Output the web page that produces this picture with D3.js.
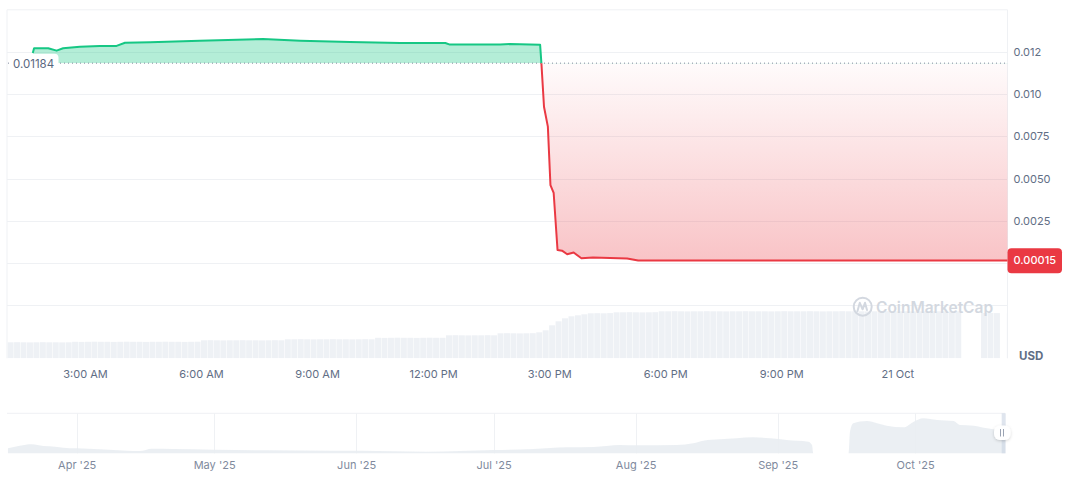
<!DOCTYPE html>
<html><head><meta charset="utf-8">
<script src="https://cdn.jsdelivr.net/npm/d3@7"></script>
<style>
html,body{margin:0;padding:0;background:#fff;}
svg{display:block;font-family:Inter,"Noto Sans",sans-serif;}
</style></head><body>
<svg id="c" width="1072" height="477"></svg>
<script>
// ---------------- DATA ----------------
const priceTimes = ["2025-10-20T01:39Z","2025-10-20T01:41Z","2025-10-20T02:03Z","2025-10-20T02:16Z","2025-10-20T02:26Z","2025-10-20T02:52Z","2025-10-20T03:23Z","2025-10-20T03:49Z","2025-10-20T04:02Z","2025-10-20T04:41Z","2025-10-20T05:58Z","2025-10-20T07:36Z","2025-10-20T08:34Z","2025-10-20T09:51Z","2025-10-20T11:09Z","2025-10-20T12:19Z","2025-10-20T12:26Z","2025-10-20T13:44Z","2025-10-20T13:59Z","2025-10-20T14:46Z","2025-10-20T14:48Z","2025-10-20T14:52Z","2025-10-20T14:58Z","2025-10-20T15:02Z","2025-10-20T15:07Z","2025-10-20T15:13Z","2025-10-20T15:20Z","2025-10-20T15:28Z","2025-10-20T15:38Z","2025-10-20T15:50Z","2025-10-20T16:08Z","2025-10-20T17:01Z","2025-10-20T17:18Z","2025-10-20T19:56Z","2025-10-20T22:48Z","2025-10-21T02:51Z"];
const priceValues = [0.01244,0.01272,0.01272,0.01258,0.01272,0.01281,0.01286,0.01286,0.01305,0.01308,0.01317,0.01327,0.01317,0.01309,0.01303,0.01303,0.01294,0.01294,0.01297,0.01293,0.01183,0.00926,0.00808,0.00462,0.00415,0.00077,0.00073,0.00052,0.00062,0.00028,0.00033,0.00027,0.00015,0.00015,0.00015,0.00015];
const openPrice = 0.01184;
const lastPriceLabel = "0.00015";
const openPriceLabel = "0.01184";

// volume: 10-minute bars starting 2025-10-20 01:00 UTC (relative units)
const volumeStart = "2025-10-20T01:00Z";
const volumeValues = [
16,16.1,16,15.9,16,16.1,16,16,15.9,16,
16.5,16.4,16.5,16.6,16.5,16.5,16.4,16.5,16.6,16.5,16.5,16.4,16.5,16.5,16.6,16.5,16.5,16.4,16.5,16.6,
18,18.1,18,17.9,18,18,18.1,18,18,17.9,18,18.1,18,
19,19,19.1,19,18.9,19,19,19.1,19,19,18.9,19,19.1,19,
20.5,20.4,20.5,20.6,20.5,20.5,20.4,20.5,20.6,20.5,20.5,
23,23.1,23,22.9,23,23,23.1,23,
25,25.1,25,24.9,25,25.1,
26,28,33,37,40,42,43,44,
45,45.1,45,45.2,
46,46,46.1,46,45.9,46,46.1,
47,47,47.1,47,46.9,47,47,47.1,47,47,46.9,47,47,47.1,47,47,47,46.9,47,47.1,47,47,47,47.1,47,46.9,47,47,47.1,47,47,47,46.9,47,47,47.1,47,47,47,46.9,47,47,47.1,47,47,47,47,
0,0,0,
45.3,45.3,45.2,
0,
45];
const volumeStepMin = 10;

const priceTicks = [0.0125,0.01,0.0075,0.005,0.0025];
const priceTickLabels = ["0.012","0.010","0.0075","0.0050","0.0025"];
const extraGrid = [0,-0.0025];

const timeTicks = ["2025-10-20T03:00Z","2025-10-20T06:00Z","2025-10-20T09:00Z","2025-10-20T12:00Z","2025-10-20T15:00Z","2025-10-20T18:00Z","2025-10-20T21:00Z","2025-10-21T00:00Z"];
const timeTickLabels = ["3:00 AM","6:00 AM","9:00 AM","12:00 PM","3:00 PM","6:00 PM","9:00 PM","21 Oct"];

// navigator (overview) history, relative units
const navDates = ["2025-03-17","2025-03-19T14:00","2025-03-22T05:00","2025-03-24T17:00","2025-03-27T07:00","2025-03-29T02:00","2025-04-01","2025-04-06","2025-04-12","2025-04-14T19:00","2025-04-17T10:00","2025-04-22","2025-05-01","2025-05-12T12:00","2025-05-27","2025-06-02","2025-06-16T10:00","2025-06-23T17:00","2025-07-01","2025-07-09T17:00","2025-07-17","2025-07-22T19:00","2025-07-28T14:00","2025-08-01","2025-08-10","2025-08-13T14:00","2025-08-15T19:00","2025-08-19T10:00","2025-08-23","2025-08-26T17:00","2025-08-30T10:00","2025-09-03","2025-09-07T17:00","2025-09-08T12:00","2025-09-08T19:00","2025-09-16T12:00","2025-09-16T19:00","2025-09-17T12:00","2025-09-20T12:00","2025-09-22T17:00","2025-09-24T19:00","2025-09-28T12:00","2025-09-30T17:00","2025-10-02T19:00","2025-10-05T19:00","2025-10-09T10:00","2025-10-10T19:00","2025-10-13T19:00","2025-10-16T17:00","2025-10-19T14:00","2025-10-20T15:00"];
const navValues = [5,7.6,9,7.3,6.6,5.6,5,4,2.6,2.3,4.6,4.3,3.6,3,2.6,2.6,1.6,2.3,3.3,4.3,6,6.3,8.3,8,8.3,10,12.6,14,15,16,15,13.3,11.6,8.3,0,0,21.6,30,32.3,30,27.6,26,31.6,35,33.3,32.3,28.3,27.6,25,23.3,23.3];
const navTicks = ["2025-04-01","2025-05-01","2025-06-01","2025-07-01","2025-08-01","2025-09-01","2025-10-01"];
const navTickLabels = ["Apr '25","May '25","Jun '25","Jul '25","Aug '25","Sep '25","Oct '25"];

// ---------------- CHART ----------------
const svg = d3.select("#c");
const L = 7, R = 1007.5, T = 9.8, B = 358.3;
const GREEN = "#16c784", RED = "#ea3943", GRID = "#eff1f4";

const x = d3.scaleUtc().domain([new Date("2025-10-20T00:59Z"), new Date("2025-10-21T02:51Z")]).range([L, R]);
const y = d3.scaleLinear().domain([0, 0.015]).range([263, T]);
const yv = d3.scaleLinear().domain([0, 50]).range([B, B - 50]);

const price = priceTimes.map((t,i)=>({t:new Date(t), v:priceValues[i]}));
const yBase = y(openPrice);

const defs = svg.append("defs");
const rg = defs.append("linearGradient").attr("id","redGrad").attr("gradientUnits","userSpaceOnUse")
  .attr("x1",0).attr("x2",0).attr("y1",yBase).attr("y2",y(0.00015));
rg.append("stop").attr("offset",0).attr("stop-color",RED).attr("stop-opacity",0.02);
rg.append("stop").attr("offset",1).attr("stop-color",RED).attr("stop-opacity",0.3);
defs.append("clipPath").attr("id","clipUp").append("rect").attr("x",0).attr("y",0).attr("width",1072).attr("height",yBase);
defs.append("clipPath").attr("id","clipDown").append("rect").attr("x",0).attr("y",yBase).attr("width",1072).attr("height",400);
defs.append("clipPath").attr("id","clipPlot").append("rect").attr("x",L).attr("y",T).attr("width",R-L).attr("height",B-T);
const sh = defs.append("filter").attr("id","shadow").attr("x","-50%").attr("y","-50%").attr("width","200%").attr("height","200%");
sh.append("feDropShadow").attr("dx",0).attr("dy",1).attr("stdDeviation",1.5).attr("flood-color","#000").attr("flood-opacity",0.18);

// volume bars
const vStart = new Date(volumeStart);
const vol = volumeValues.map((v,i)=>({t:new Date(+vStart + i*volumeStepMin*60000), v}));
const barW = x(new Date(+vStart + volumeStepMin*60000)) - x(vStart);
svg.append("g").attr("clip-path","url(#clipPlot)").selectAll("rect").data(vol).join("rect")
  .attr("x",d=>x(d.t)).attr("width",barW-0.5)
  .attr("y",d=>yv(d.v)).attr("height",d=>B-yv(d.v))
  .attr("fill","#eef1f5");

// grid
const gridG = svg.append("g");
gridG.selectAll("line.h").data(priceTicks.concat(extraGrid)).join("line")
  .attr("x1",L).attr("x2",R).attr("y1",d=>Math.round(y(d))+0.5).attr("y2",d=>Math.round(y(d))+0.5)
  .attr("stroke",GRID).attr("stroke-width",1);
gridG.append("line").attr("x1",L).attr("x2",R).attr("y1",T).attr("y2",T).attr("stroke",GRID);
gridG.append("line").attr("x1",L).attr("x2",L).attr("y1",T).attr("y2",B).attr("stroke",GRID);
gridG.append("line").attr("x1",R).attr("x2",R).attr("y1",T).attr("y2",B).attr("stroke",GRID);

// watermark
const wm = svg.append("g");
wm.append("circle").attr("cx",862.7).attr("cy",306.7).attr("r",9).attr("fill","none").attr("stroke","#d3d8e0").attr("stroke-width",2);
wm.append("path").attr("d","M857.5,311 L859.8,302.8 L862.6,309.3 L865,302.8 L867,310")
  .attr("fill","none").attr("stroke","#d3d8e0").attr("stroke-width",2).attr("stroke-linejoin","round").attr("stroke-linecap","round");
wm.append("text").attr("x",876).attr("y",312.5).attr("font-size",15.5).attr("font-weight",600)
  .attr("fill","#d3d8e0").text("CoinMarketCap");

// areas
const area = d3.area().x(d=>x(d.t)).y0(yBase).y1(d=>y(d.v));
const line = d3.line().x(d=>x(d.t)).y(d=>y(d.v));
svg.append("path").datum(price).attr("d",area).attr("fill",GREEN).attr("fill-opacity",0.32).attr("clip-path","url(#clipUp)");
svg.append("path").datum(price).attr("d",area).attr("fill","url(#redGrad)").attr("clip-path","url(#clipDown)");

// baseline dotted
svg.append("line").attr("x1",L+1).attr("x2",R).attr("y1",yBase).attr("y2",yBase)
  .attr("stroke","#808a9d").attr("stroke-width",1).attr("stroke-dasharray","1,3");

// lines
svg.append("path").datum(price).attr("d",line).attr("fill","none").attr("stroke",GREEN).attr("stroke-width",2).attr("stroke-linejoin","round").attr("clip-path","url(#clipUp)");
svg.append("path").datum(price).attr("d",line).attr("fill","none").attr("stroke",RED).attr("stroke-width",2).attr("stroke-linejoin","round").attr("clip-path","url(#clipDown)");

// open price label
svg.append("rect").attr("x",10.5).attr("y",yBase-9.5).attr("width",48).attr("height",19).attr("rx",4).attr("fill","#fff");
svg.append("text").attr("x",13).attr("y",yBase+0.5).attr("dy","0.36em").attr("font-size",11.5).attr("fill","#58667e").text(openPriceLabel);

// right axis
const ya = svg.append("g").attr("transform",`translate(${R},0)`)
  .call(d3.axisRight(y).tickValues(priceTicks).tickFormat((d,i)=>priceTickLabels[i]).tickSize(0).tickPadding(6));
ya.select(".domain").remove();
ya.selectAll("text").attr("font-size",11).attr("fill","#616e85").attr("font-family","Inter,'Noto Sans',sans-serif");

// last price tag
const yl = y(priceValues[priceValues.length-1]);
svg.append("rect").attr("x",R).attr("y",yl-12.3).attr("width",54.5).attr("height",25).attr("rx",4).attr("fill",RED);
svg.append("text").attr("x",R+6).attr("y",yl).attr("dy","0.36em").attr("font-size",11).attr("font-weight",500).attr("fill","#fff").text(lastPriceLabel);

// USD
svg.append("text").attr("x",1019).attr("y",356).attr("dy","0.36em").attr("font-size",11.5).attr("font-weight",700).attr("fill","#616e85").text("USD");

// bottom axis
const xa = svg.append("g").attr("transform",`translate(0,${B})`)
  .call(d3.axisBottom(x).tickValues(timeTicks.map(t=>new Date(t))).tickFormat((d,i)=>timeTickLabels[i]).tickSize(0).tickPadding(12));
xa.select(".domain").remove();
xa.selectAll("text").attr("font-size",11).attr("fill","#616e85").attr("font-family","Inter,'Noto Sans',sans-serif");

// ---------------- NAVIGATOR ----------------
const NL = 7, NR = 1005, NT = 413.3, NB = 453.3;
const xn = d3.scaleUtc().domain([new Date("2025-03-16T19:00Z"), new Date("2025-10-20T15:00Z")]).range([NL, NR]);
const yn = d3.scaleLinear().domain([0, 40]).range([NB, NT]);
const nav = navDates.map((d,i)=>({t:new Date(d.length>10 ? d+"Z" : d+"T00:00Z"), v:navValues[i]}));

svg.append("line").attr("x1",NL).attr("x2",NR).attr("y1",NT).attr("y2",NT).attr("stroke",GRID);
svg.append("g").selectAll("line").data(navTicks).join("line")
  .attr("x1",d=>Math.round(xn(new Date(d+"T00:00Z")))+0.5).attr("x2",d=>Math.round(xn(new Date(d+"T00:00Z")))+0.5)
  .attr("y1",NT).attr("y2",NB).attr("stroke",GRID);
svg.append("path").datum(nav).attr("d",d3.area().x(d=>xn(d.t)).y0(NB).y1(d=>yn(d.v)).curve(d3.curveMonotoneX))
  .attr("fill","#e9edf2").attr("fill-opacity",0.9);
// selection band
svg.append("rect").attr("x",1001.7).attr("y",NT).attr("width",4).attr("height",NB-NT).attr("fill","#c9d3e3").attr("opacity",0.6);
// handle
svg.append("rect").attr("x",994).attr("y",425.5).attr("width",16.5).attr("height",14.5).attr("rx",6).attr("fill","#fff").attr("filter","url(#shadow)");
[1000.5,1003.5].forEach(hx=>svg.append("line").attr("x1",hx).attr("x2",hx).attr("y1",429).attr("y2",436.5).attr("stroke","#9aa3b3").attr("stroke-width",1));

const na = svg.append("g").attr("transform",`translate(0,${NB})`)
  .call(d3.axisBottom(xn).tickValues(navTicks.map(d=>new Date(d+"T00:00Z"))).tickFormat((d,i)=>navTickLabels[i]).tickSize(0).tickPadding(8));
na.select(".domain").remove();
na.selectAll("text").attr("font-size",11).attr("fill","#808a9d").attr("font-family","Inter,'Noto Sans',sans-serif");
</script>
</body></html>
